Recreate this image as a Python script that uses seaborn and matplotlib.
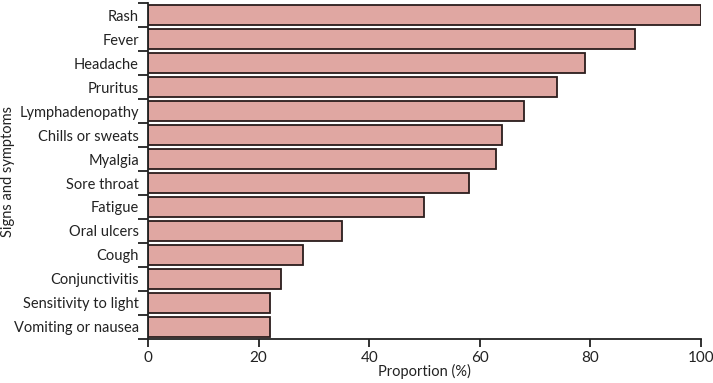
import seaborn as sns
import matplotlib.pyplot as plt
import pandas as pd
import numpy as np

# Data
symptoms = ['Rash', 'Fever', 'Headache', 'Pruritus', 'Lymphadenopathy', 'Chills or sweats',
            'Myalgia', 'Sore throat', 'Fatigue', 'Oral ulcers', 'Cough', 'Conjunctivitis',
            'Sensitivity to light', 'Vomiting or nausea']
proportion = [100, 88, 79, 74, 68, 64, 63, 58, 50, 35, 28, 24, 22, 22]

df = pd.DataFrame({'Symptom': symptoms, 'Proportion': proportion})

sns.set_style('ticks')
plt.rcParams['font.family'] = ['Lato', 'DejaVu Sans']

fig = plt.figure(figsize=(7.13, 3.83), dpi=100)
ax = fig.add_axes([0.2076, 0.115, 0.7755, 0.877])

sns.barplot(data=df, y='Symptom', x='Proportion', orient='h', color='#E0A7A2',
            saturation=1, edgecolor='#2b1d1d', linewidth=1.3, width=0.86, ax=ax)

n = len(symptoms)
ax.set_ylim(n - 0.5, -0.5)
ax.set_xlim(0, 100)
ax.set_xticks([0, 20, 40, 60, 80, 100])

# category labels without marks, ticks at bar boundaries
ax.tick_params(axis='y', which='major', length=0, pad=6.5, labelsize=10.5, colors='#222222')
ax.set_yticks(np.arange(-0.5, n, 1), minor=True)
ax.tick_params(axis='y', which='minor', length=7, width=1.3, color='#222222')
ax.tick_params(axis='x', length=6, width=1.3, labelsize=11, colors='#222222', pad=3)

sns.despine(ax=ax)
for s in ['left', 'bottom']:
    ax.spines[s].set_linewidth(1.3)
    ax.spines[s].set_color('#222222')

ax.set_xlabel('Proportion (%)', fontsize=10.5, color='#222222', va='center')
ax.set_ylabel('Signs and symptoms', fontsize=10.5, color='#222222', va='center')
ax.xaxis.set_label_coords(0.5, -0.098)
ax.yaxis.set_label_coords(-0.253, 0.5)

fig.savefig('out.png', dpi=100)
